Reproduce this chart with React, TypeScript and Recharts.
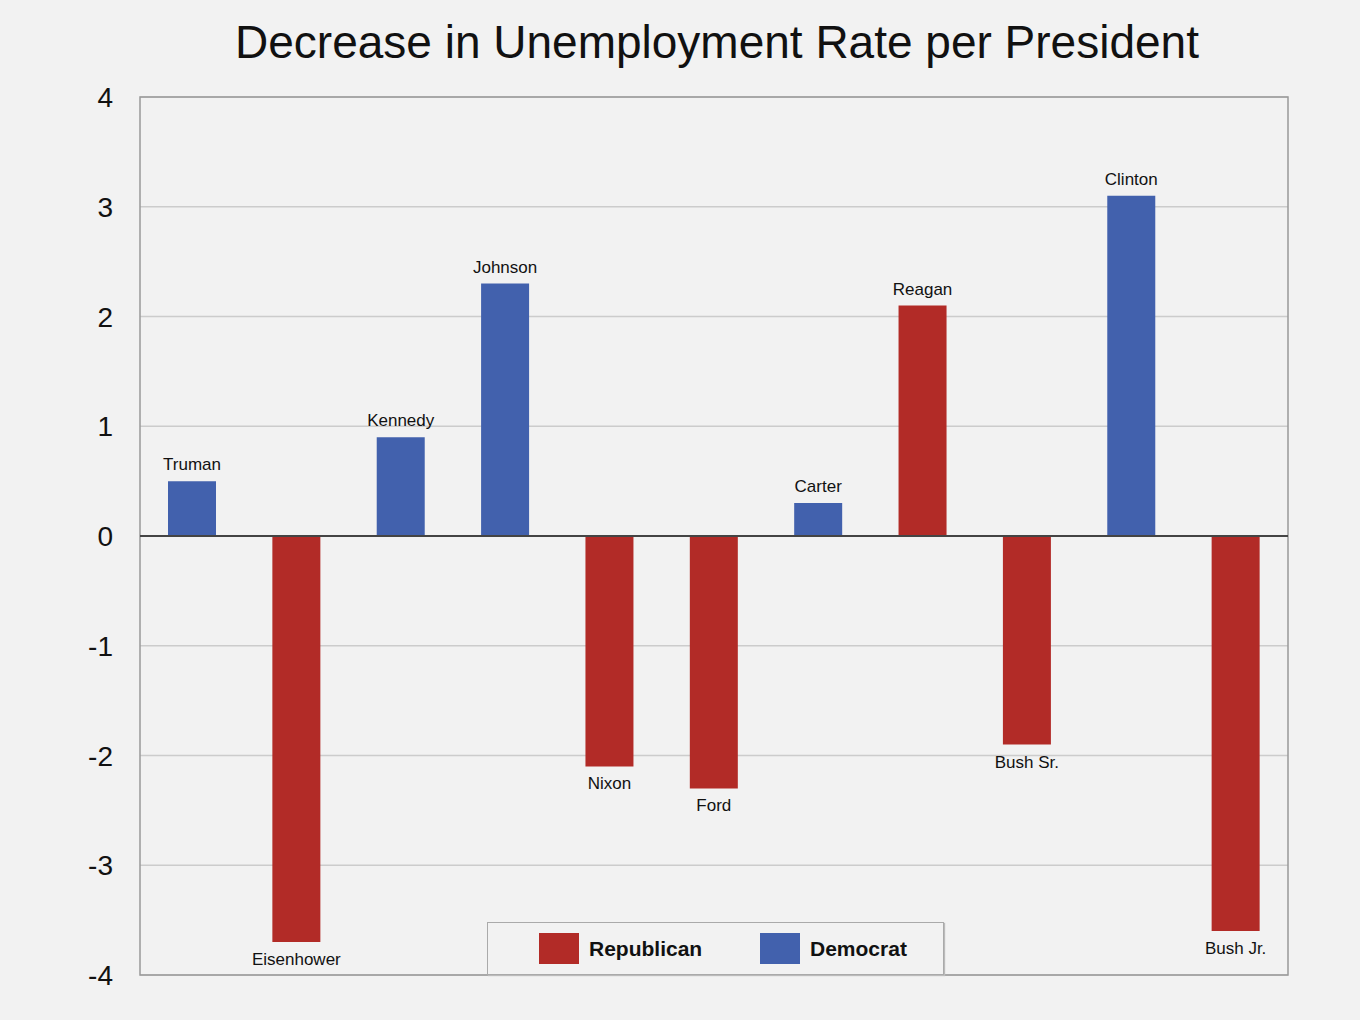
import React from "react";
import {
  BarChart,
  Bar,
  XAxis,
  YAxis,
  CartesianGrid,
  ReferenceLine,
  ReferenceArea,
  Cell,
  LabelList,
} from "recharts";

const presidents = [
  "Truman",
  "Eisenhower",
  "Kennedy",
  "Johnson",
  "Nixon",
  "Ford",
  "Carter",
  "Reagan",
  "Bush Sr.",
  "Clinton",
  "Bush Jr.",
];
const decreases = [0.5, -3.7, 0.9, 2.3, -2.1, -2.3, 0.3, 2.1, -1.9, 3.1, -3.6];
const parties = ["D", "R", "D", "D", "R", "R", "D", "R", "R", "D", "R"];
const yTicks = [-4, -3, -2, -1, 0, 1, 2, 3, 4];
const legendItems = [
  { key: "R", label: "Republican" },
  { key: "D", label: "Democrat" },
];

const COLORS: Record<string, string> = { R: "#b22b27", D: "#4261ad" };
const FONT = "'Liberation Sans', Arial, Helvetica, sans-serif";

const data = presidents.map((name, i) => ({
  name,
  value: decreases[i],
  party: parties[i],
}));

const YTick = (props: any) => {
  const { y, payload } = props;
  return (
    <text
      x={113}
      y={y}
      dy={10}
      textAnchor="end"
      fontSize={28}
      fontFamily={FONT}
      fill="#111"
    >
      {payload.value}
    </text>
  );
};

const BarLabel = (props: any) => {
  const { x, y, width, height, index } = props;
  const d = data[index];
  const top = Math.min(y, y + height);
  const bottom = Math.max(y, y + height);
  const cx = x + width / 2;
  const ty = d.value >= 0 ? top - 11 : bottom + 23;
  return (
    <text
      x={cx}
      y={ty}
      textAnchor="middle"
      fontSize={17}
      fontFamily={FONT}
      fill="#111"
    >
      {d.name}
    </text>
  );
};

const LegendBox = () => (
  <div
    style={{
      position: "absolute",
      left: 487,
      top: 922,
      width: 457,
      height: 53,
      border: "1px solid #aaa",
      boxShadow: "1px 1px 1px #bbb",
      background: "#f2f2f2",
      boxSizing: "border-box",
      fontFamily: FONT,
    }}
  >
    {legendItems.map((it, i) => (
      <div
        key={it.key}
        style={{
          position: "absolute",
          left: i === 0 ? 51 : 272,
          top: 10,
          display: "flex",
          alignItems: "center",
        }}
      >
        <div
          style={{
            width: 40,
            height: 31,
            background: COLORS[it.key],
          }}
        />
        <span
          style={{
            marginLeft: 10,
            fontSize: 21,
            fontWeight: "bold",
            color: "#111",
          }}
        >
          {it.label}
        </span>
      </div>
    ))}
  </div>
);

export default function App() {
  return (
    <div
      style={{
        position: "fixed",
        left: 0,
        top: 0,
        width: 1360,
        height: 1020,
        background: "#f2f2f2",
        overflow: "hidden",
      }}
    >
      <div
        style={{
          position: "absolute",
          left: 0,
          top: 13,
          width: 1434,
          textAlign: "center",
          fontFamily: FONT,
          fontSize: 46,
          color: "#111",
          lineHeight: "58px",
        }}
      >
        Decrease in Unemployment Rate per President
      </div>
      <BarChart
        width={1360}
        height={1020}
        data={data}
        margin={{ top: 97, right: 72, bottom: 45, left: 0 }}
        style={{ position: "absolute", left: 0, top: 0 }}
      >
        <CartesianGrid
          horizontal={true}
          vertical={false}
          stroke="#cccccc"
          strokeWidth={1.5}
        />
        <XAxis dataKey="name" hide />
        <YAxis
          width={140}
          domain={[-4, 4]}
          ticks={yTicks}
          axisLine={false}
          tickLine={false}
          tick={<YTick />}
          interval={0}
        />
        <ReferenceArea
          y1={-4}
          y2={4}
          fill="none"
          stroke="#999"
          strokeWidth={1.5}
          ifOverflow="visible"
        />
        <Bar dataKey="value" barSize={48} isAnimationActive={false}>
          {data.map((d) => (
            <Cell key={d.name} fill={COLORS[d.party]} />
          ))}
          <LabelList dataKey="name" content={<BarLabel />} />
        </Bar>
        <ReferenceLine y={0} stroke="#444" strokeWidth={2} ifOverflow="visible" />
      </BarChart>
      <LegendBox />
    </div>
  );
}
